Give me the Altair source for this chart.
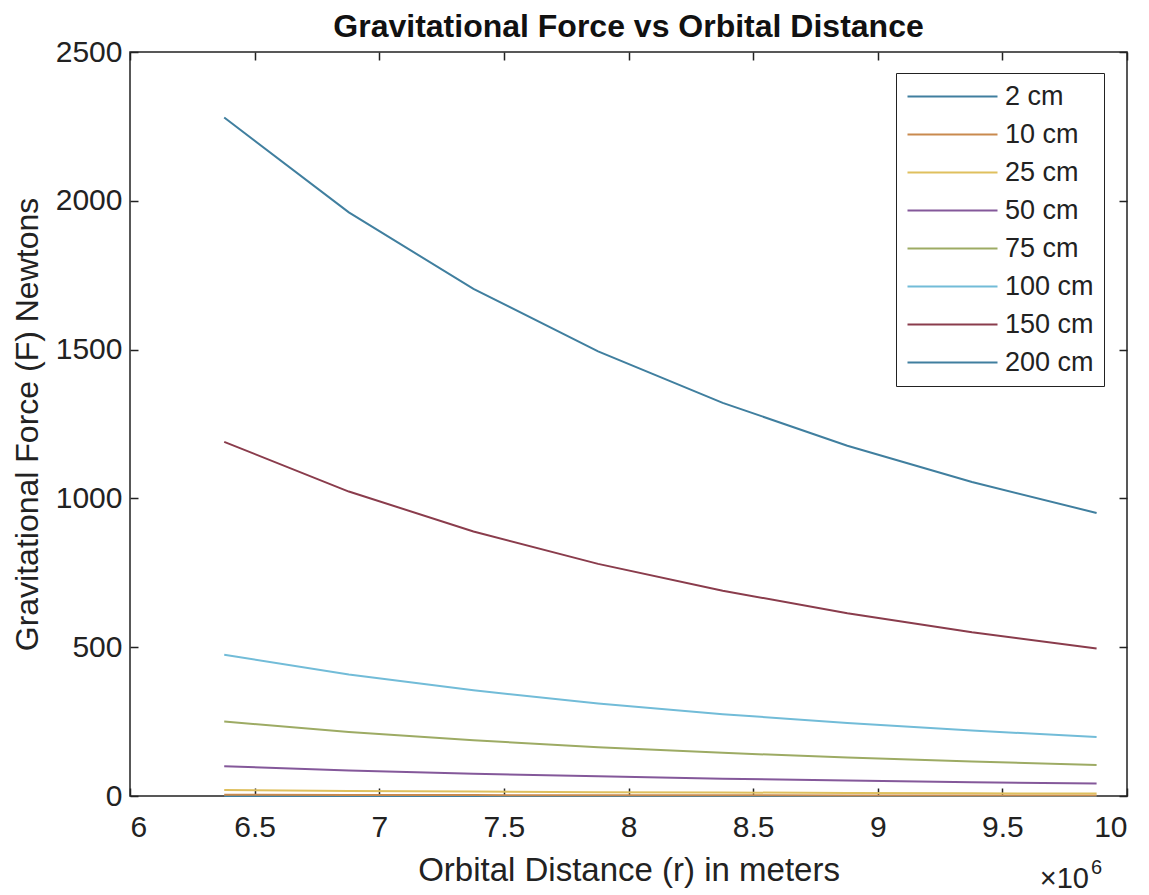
import altair as alt
import pandas as pd

# Orbital distance (m)
distance = [6.378e6, 6.878e6, 7.378e6, 7.878e6, 8.378e6, 8.878e6, 9.378e6, 9.878e6]

sizes = ["2 cm", "10 cm", "25 cm", "50 cm", "75 cm", "100 cm", "150 cm", "200 cm"]
force_2 = [0.2, 0.17, 0.15, 0.13, 0.12, 0.10, 0.09, 0.08]
force_10 = [4.0, 3.4, 3.0, 2.6, 2.3, 2.1, 1.9, 1.7]
force_25 = [20, 17, 15, 13, 12, 10, 9, 8]
force_50 = [100, 86, 75, 66, 58, 52, 46, 42]
force_75 = [250, 215, 187, 164, 145, 129, 116, 104]
force_100 = [475, 408, 355, 311, 275, 245, 220, 198]
force_150 = [1190, 1023, 889, 780, 690, 614, 550, 496]
force_200 = [2280, 1961, 1704, 1494, 1321, 1177, 1055, 951]

series = [force_2, force_10, force_25, force_50, force_75, force_100, force_150, force_200]
colors = ["#407f9f", "#c98a4e", "#dfc05e", "#84589a", "#9dab64", "#72bcd8", "#8a3c4c", "#407f9f"]

x_ticks = [6e6, 6.5e6, 7e6, 7.5e6, 8e6, 8.5e6, 9e6, 9.5e6, 10e6]
y_ticks = [0, 500, 1000, 1500, 2000, 2500]

rows = []
for s, vals in zip(sizes, series):
    for d, f in zip(distance, vals):
        rows.append({"r": d, "F": f, "size": s})
df = pd.DataFrame(rows)

FONT = "Liberation Sans"
TICK_FS = 30

color = alt.Color(
    "size:N",
    sort=sizes,
    scale=alt.Scale(domain=sizes, range=colors),
    legend=alt.Legend(
        title=None,
        orient="none",
        legendX=766,
        legendY=21,
        symbolType="M-5,0H5",
        symbolSize=324,
        symbolStrokeWidth=2,
        symbolOffset=33,
        labelFontSize=27,
        labelFont=FONT,
        labelColor="#222222",
        labelOffset=39,
        rowPadding=10,
        padding=10,
        strokeColor="#222222",
        fillColor="white",
    ),
)

xs = alt.Scale(domain=[6e6, 10e6], nice=False, zero=False)
ys = alt.Scale(domain=[0, 2500], nice=False)

lines = alt.Chart(df).mark_line(strokeWidth=2).encode(
    x=alt.X(
        "r:Q",
        scale=xs,
        axis=alt.Axis(
            values=x_ticks,
            labelExpr="datum.value / 1000000",
            title="Orbital Distance (r) in meters",
            titleFontSize=33,
            offset=-8,
            tickSize=8,
            labelPadding=16,
            titlePadding=12,
            grid=False,
            domain=False,
        ),
    ),
    y=alt.Y(
        "F:Q",
        scale=ys,
        axis=alt.Axis(
            values=y_ticks,
            format="d",
            title="Gravitational Force (F) Newtons",
            titleFontSize=32,
            offset=-8,
            tickSize=8,
            labelPadding=8,
            titlePadding=11,
            grid=False,
            domain=False,
        ),
    ),
    color=color,
    detail="size:N",
)

box_axes = alt.Chart(df).mark_line(opacity=0).encode(
    x=alt.X(
        "r:Q",
        scale=xs,
        axis=alt.Axis(orient="top", values=x_ticks, labels=False, title=None,
                      offset=-8, tickSize=8, grid=False, domain=False),
    ),
    y=alt.Y(
        "F:Q",
        scale=ys,
        axis=alt.Axis(orient="right", values=y_ticks, labels=False, title=None,
                      offset=-8, tickSize=8, grid=False, domain=False),
    ),
    detail="size:N",
)

sci_base = alt.Chart(pd.DataFrame({"t": ["×10"]})).mark_text(
    font=FONT, fontSize=29, color="#222222", align="right", baseline="alphabetic"
).encode(text="t:N", x=alt.value(959), y=alt.value(836))

sci_exp = alt.Chart(pd.DataFrame({"t": ["6"]})).mark_text(
    font=FONT, fontSize=20, color="#222222", align="left", baseline="alphabetic"
).encode(text="t:N", x=alt.value(961), y=alt.value(822))

chart = (
    alt.layer(lines, box_axes, sci_base, sci_exp)
    .resolve_axis(x="independent", y="independent")
    .properties(
        width=997,
        height=744,
        padding={"left": 122, "top": 44, "right": 14, "bottom": 99},
        autosize=alt.AutoSizeParams(type="none"),
        title=alt.Title(
            "Gravitational Force vs Orbital Distance",
            font=FONT,
            fontSize=32,
            fontWeight="bold",
            color="#111111",
            offset=0,
            dy=7,
        ),
        background="white",
    )
    .configure_view(stroke="#222222", strokeWidth=1.5)
    .configure_axis(
        labelFont=FONT,
        labelFontSize=TICK_FS,
        labelColor="#222222",
        titleFont=FONT,
        titleFontWeight="normal",
        titleColor="#222222",
        tickColor="#222222",
        tickWidth=1.5,
    )
)

chart.save("out.html", embed_options={"renderer": "svg", "actions": False})
